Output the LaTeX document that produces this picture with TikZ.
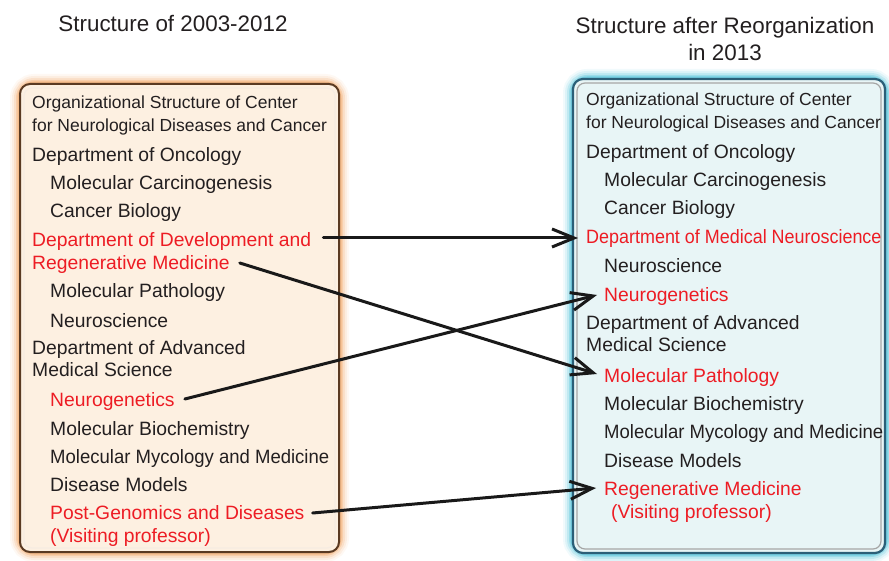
\documentclass[tikz,border=0pt]{standalone}
\usepackage{fontspec}
\setmainfont{Liberation Sans}
\usetikzlibrary{arrows.meta}
\definecolor{ink}{HTML}{231F20}
\definecolor{hot}{HTML}{ED1C24}
\definecolor{peach}{HTML}{FDF0E1}
\definecolor{peachglow}{HTML}{F2A868}
\definecolor{brownline}{HTML}{5A3A22}
\definecolor{aqua}{HTML}{E8F5F6}
\definecolor{aquaglow}{HTML}{4CC0D8}
\definecolor{tealline}{HTML}{2B5F78}
\newcommand{\squeeze}[2]{\scalebox{#1}[1]{#2}}
\tikzset{
  item/.style={anchor=base west, inner sep=0pt, text=ink, font=\fontsize{19.3}{21}\selectfont},
  head/.style={anchor=base west, inner sep=0pt, text=ink, font=\fontsize{17.5}{19}\selectfont},
  hl/.style={text=hot},
  title/.style={inner sep=0pt, text=ink, font=\fontsize{22.4}{27}\selectfont, align=center},
  move/.style={line width=3pt, draw=black!90, line cap=round,
    -{Straight Barb[length=22pt,width=18pt,line width=3pt]}},
}
\begin{document}
\begin{tikzpicture}[x=1pt,y=-1pt]
\useasboundingbox (0,0) rectangle (889,561);

% titles
\node[title] (t1) at (173,24) {Structure of 2003-2012};
\node[title] (t2) at (725,39) {Structure after Reorganization\\in 2013};

% left panel: soft orange halo, then the framed box
\foreach \w/\o in {20/0.08,16/0.12,12/0.2,8/0.32,5/0.5}
  \draw[peachglow, line width=\w pt, opacity=\o, rounded corners=14pt] (20,84) rectangle (339,552);
\fill[peach, rounded corners=10pt] (20,84) rectangle (339,552);
\draw[brownline, line width=2pt, rounded corners=10pt] (20,84) rectangle (339,552);
\draw[white!85!brown, line width=1.2pt, rounded corners=8pt] (24,88) rectangle (335,548);

% right panel: soft cyan halo, then the framed box
\foreach \w/\o in {20/0.08,16/0.12,12/0.2,8/0.32,5/0.5}
  \draw[aquaglow, line width=\w pt, opacity=\o, rounded corners=14pt] (573,79) rectangle (885,553);
\fill[aqua, rounded corners=10pt] (573,79) rectangle (885,553);
\draw[tealline, line width=2.2pt, rounded corners=10pt] (573,79) rectangle (885,553);
\draw[gray!70, line width=1.2pt, rounded corners=8pt] (577,83) rectangle (881,549);

% 2003-2012 organization (y = baseline)
\node[head] (l1) at (32,109) {Organizational Structure of Center};
\node[head] (l2) at (32,132) {for Neurological Diseases and Cancer};
\node[item] (l3) at (32,162) {Department of Oncology};
\node[item] (l4) at (50,190) {Molecular Carcinogenesis};
\node[item] (l5) at (50,218) {Cancer Biology};
\node[item,hl] (l6) at (32,247) {Department of Development and};
\node[item,hl] (l7) at (32,270) {Regenerative Medicine};
\node[item] (l8) at (50,298) {Molecular Pathology};
\node[item] (l9) at (50,327) {Neuroscience};
\node[item] (l10) at (32,355) {Department of Advanced};
\node[item] (l11) at (32,377) {Medical Science};
\node[item,hl] (l12) at (50,406) {Neurogenetics};
\node[item] (l13) at (50,435) {Molecular Biochemistry};
\node[item] (l14) at (50,463) {\squeeze{0.96}{Molecular Mycology and Medicine}};
\node[item] (l15) at (50,491) {Disease Models};
\node[item,hl] (l16) at (50,519) {Post-Genomics and Diseases};
\node[item,hl] (l17) at (50,542) {(Visiting professor)};

% 2013 organization (y = baseline)
\node[head] (r1) at (586,106) {Organizational Structure of Center};
\node[head] (r2) at (586,129) {for Neurological Diseases and Cancer};
\node[item] (r3) at (586,159) {Department of Oncology};
\node[item] (r4) at (604,187) {Molecular Carcinogenesis};
\node[item] (r5) at (604,215) {Cancer Biology};
\node[item,hl] (r6) at (586,244) {\squeeze{0.93}{Department of Medical Neuroscience}};
\node[item] (r7) at (604,273) {Neuroscience};
\node[item,hl] (r8) at (604,302) {Neurogenetics};
\node[item] (r9) at (586,330) {Department of Advanced};
\node[item] (r10) at (586,352) {Medical Science};
\node[item,hl] (r11) at (604,382) {Molecular Pathology};
\node[item] (r12) at (604,410) {Molecular Biochemistry};
\node[item] (r13) at (604,438) {\squeeze{0.96}{Molecular Mycology and Medicine}};
\node[item] (r14) at (604,467) {Disease Models};
\node[item,hl] (r15) at (604,495) {Regenerative Medicine};
\node[item,hl] (r16) at (611,518) {(Visiting professor)};

% reassignments between the two structures
\draw[move] ([xshift=12pt,yshift=9pt]l6.base east) -- ([xshift=-8pt,yshift=6pt]r6.base west);
\draw[move] ([xshift=10pt,yshift=7pt]l7.base east) -- ([xshift=-7pt,yshift=8pt]r11.base west);
\draw[move] ([xshift=10pt,yshift=7pt]l12.base east) -- ([xshift=-7pt,yshift=7pt]r8.base west);
\draw[move] ([xshift=8pt,yshift=6pt]l16.base east) -- ([xshift=-8pt,yshift=7pt]r15.base west);
\end{tikzpicture}
\end{document}
